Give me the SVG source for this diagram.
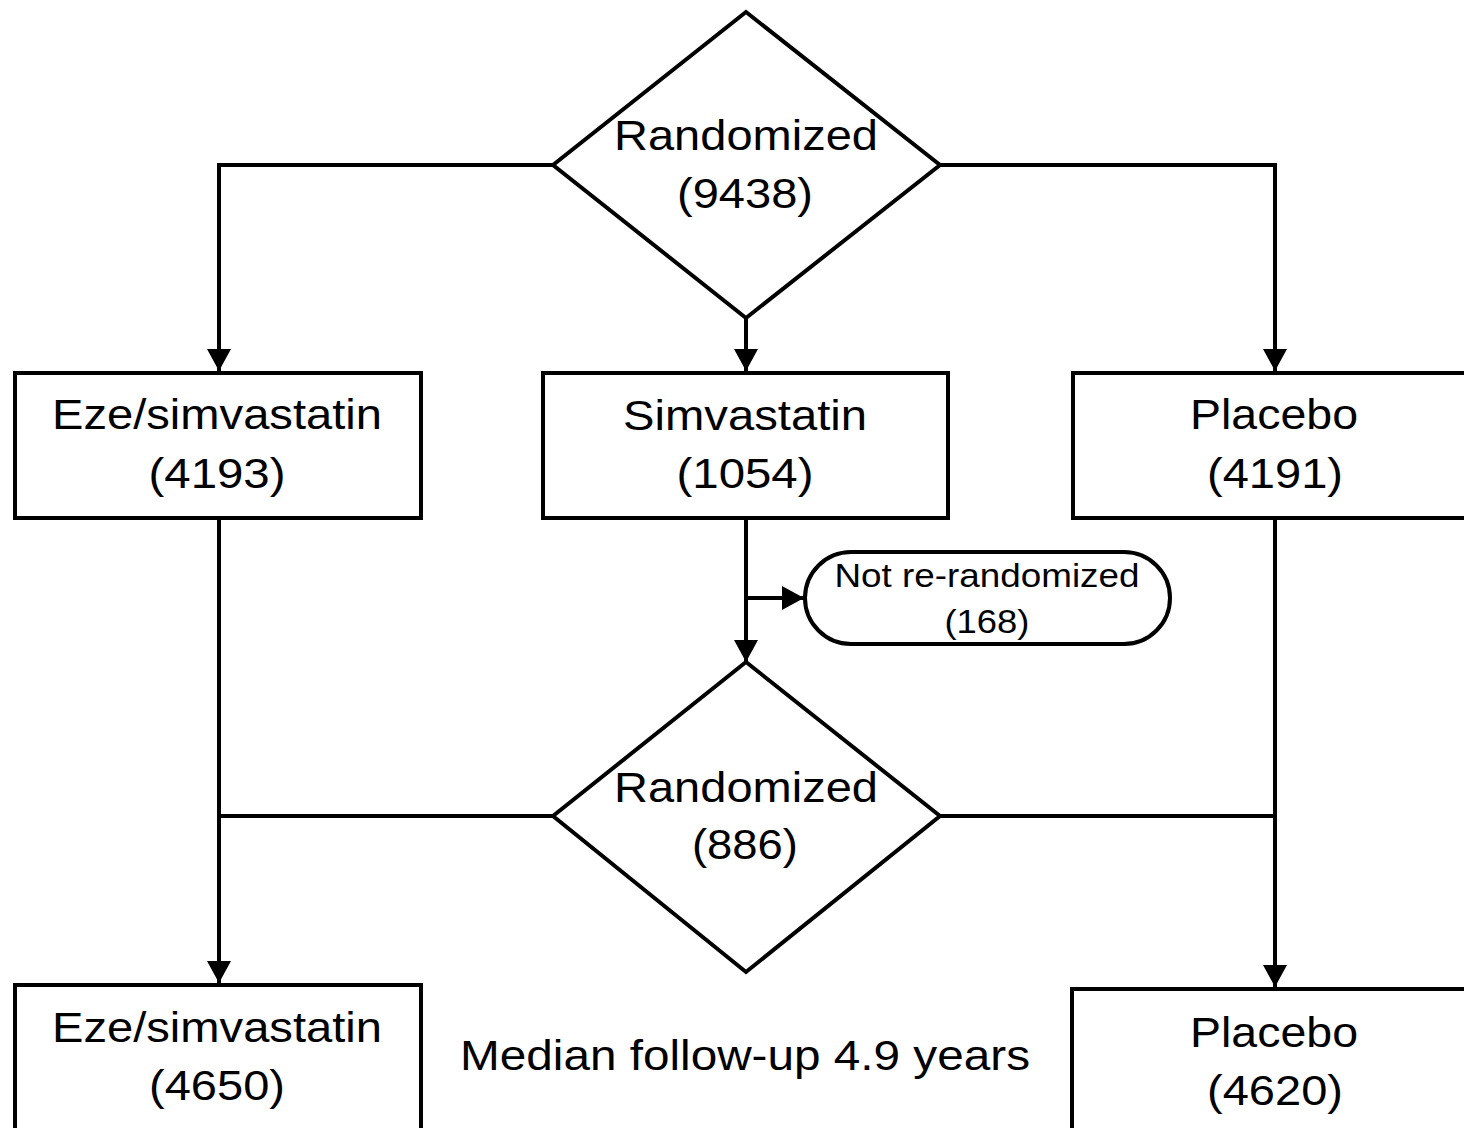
<svg xmlns="http://www.w3.org/2000/svg" width="1464" height="1128" viewBox="0 0 1464 1128">
<style>
.shape{fill:#fff;stroke:#000;stroke-width:4}
.conn{fill:none;stroke:#000;stroke-width:4}
.t{font-family:"Liberation Sans",Arial,sans-serif;font-size:42px;fill:#000;text-anchor:middle}
.s{font-family:"Liberation Sans",Arial,sans-serif;font-size:33px;fill:#000;text-anchor:middle}
</style>
<defs>
<marker id="arr" markerUnits="userSpaceOnUse" markerWidth="24" markerHeight="24" refX="22" refY="12" orient="auto" viewBox="0 0 24 24">
<path d="M0,0 L22,12 L0,24 z" fill="#000"/>
</marker>
</defs>
<rect width="1464" height="1128" fill="#fff"/>
<g id="connectors">
<polyline class="conn" points="553,165 219,165 219,371" marker-end="url(#arr)"/>
<line class="conn" x1="746" y1="318" x2="746" y2="371" marker-end="url(#arr)"/>
<polyline class="conn" points="940,165 1275,165 1275,371" marker-end="url(#arr)"/>
<line class="conn" x1="746" y1="518" x2="746" y2="662" marker-end="url(#arr)"/>
<line class="conn" x1="746" y1="598" x2="804" y2="598" marker-end="url(#arr)"/>
<line class="conn" x1="219" y1="518" x2="219" y2="983" marker-end="url(#arr)"/>
<line class="conn" x1="553" y1="816" x2="217" y2="816"/>
<line class="conn" x1="1275" y1="518" x2="1275" y2="987" marker-end="url(#arr)"/>
<line class="conn" x1="940" y1="816" x2="1277" y2="816"/>
</g>
<g id="randomized1">
<polygon class="shape" points="746,12 940,165 746,318 553,165"/>
<text class="t" x="746" y="150" textLength="264" lengthAdjust="spacingAndGlyphs">Randomized</text>
<text class="t" x="745" y="208" textLength="136" lengthAdjust="spacingAndGlyphs">(9438)</text>
</g>
<g id="eze1">
<rect class="shape" x="15" y="373" width="406" height="145"/>
<text class="t" x="217" y="429" textLength="330" lengthAdjust="spacingAndGlyphs">Eze/simvastatin</text>
<text class="t" x="217" y="488" textLength="137" lengthAdjust="spacingAndGlyphs">(4193)</text>
</g>
<g id="simva">
<rect class="shape" x="543" y="373" width="405" height="145"/>
<text class="t" x="745" y="430" textLength="244" lengthAdjust="spacingAndGlyphs">Simvastatin</text>
<text class="t" x="745" y="488" textLength="137" lengthAdjust="spacingAndGlyphs">(1054)</text>
</g>
<g id="placebo1">
<rect class="shape" x="1073" y="373" width="420" height="145"/>
<text class="t" x="1274" y="429" textLength="168" lengthAdjust="spacingAndGlyphs">Placebo</text>
<text class="t" x="1275" y="488" textLength="136" lengthAdjust="spacingAndGlyphs">(4191)</text>
</g>
<g id="notrerand">
<rect class="shape" x="805" y="552" width="365" height="92" rx="46" ry="46"/>
<text class="s" x="987" y="587" textLength="305" lengthAdjust="spacingAndGlyphs">Not re-randomized</text>
<text class="s" x="987" y="633" textLength="85" lengthAdjust="spacingAndGlyphs">(168)</text>
</g>
<g id="randomized2">
<polygon class="shape" points="746,662 940,816 746,972 553,816"/>
<text class="t" x="746" y="802" textLength="264" lengthAdjust="spacingAndGlyphs">Randomized</text>
<text class="t" x="745" y="859" textLength="106" lengthAdjust="spacingAndGlyphs">(886)</text>
</g>
<g id="eze2">
<rect class="shape" x="15" y="985" width="406" height="160"/>
<text class="t" x="217" y="1042" textLength="330" lengthAdjust="spacingAndGlyphs">Eze/simvastatin</text>
<text class="t" x="217" y="1100" textLength="136" lengthAdjust="spacingAndGlyphs">(4650)</text>
</g>
<g id="placebo2">
<rect class="shape" x="1072" y="989" width="420" height="160"/>
<text class="t" x="1274" y="1047" textLength="168" lengthAdjust="spacingAndGlyphs">Placebo</text>
<text class="t" x="1275" y="1105" textLength="136" lengthAdjust="spacingAndGlyphs">(4620)</text>
</g>
<g id="followup">
<text class="t" x="745" y="1070" textLength="570" lengthAdjust="spacingAndGlyphs">Median follow-up 4.9 years</text>
</g>
</svg>
